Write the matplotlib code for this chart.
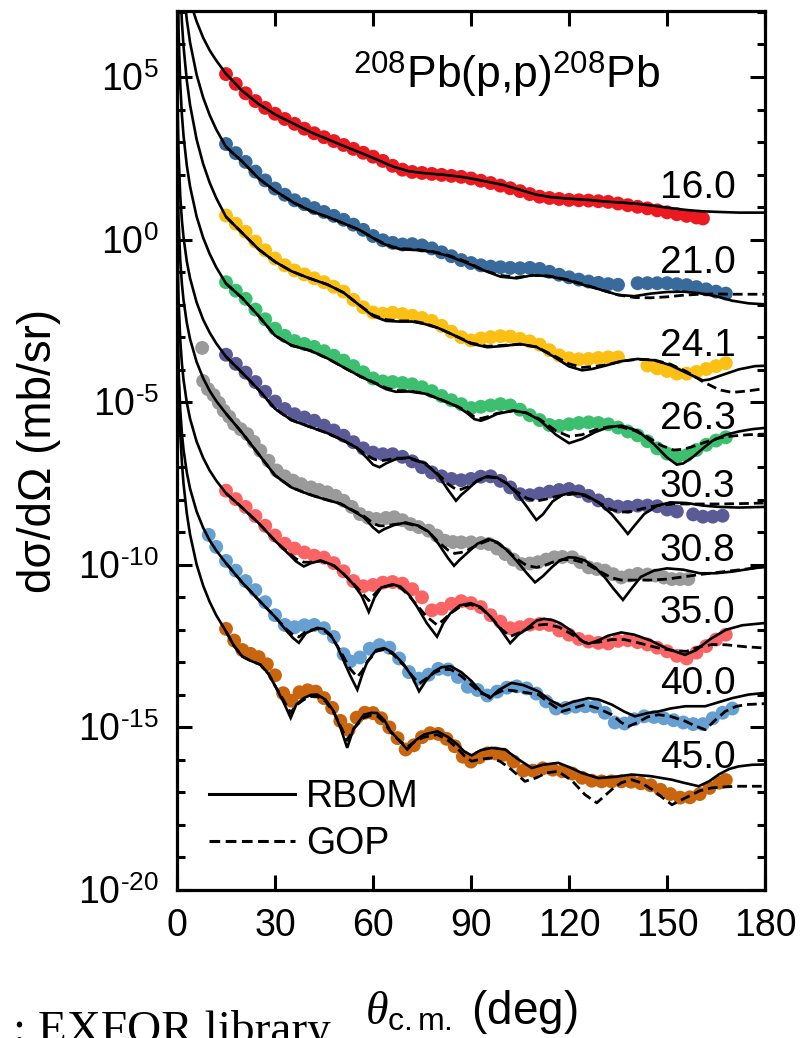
import numpy as np
import matplotlib
matplotlib.use("Agg")
import matplotlib.pyplot as plt
from matplotlib.lines import Line2D
from matplotlib.ticker import FixedLocator, FixedFormatter, NullLocator, NullFormatter

plt.rcParams['font.family'] = ['Liberation Sans', 'DejaVu Sans']
plt.rcParams['mathtext.fontset'] = 'custom'
plt.rcParams['mathtext.rm'] = 'Liberation Sans'
plt.rcParams['mathtext.it'] = 'Liberation Serif:italic'
plt.rcParams['mathtext.bf'] = 'Liberation Sans:bold'

# proton energies (MeV) and colours of the EXFOR points
energies = ['16.0', '21.0', '24.1', '26.3', '30.3', '30.8', '35.0', '40.0', '45.0']
colors = ['#ec1a20', '#386a9c', '#fcc014', '#3cbf6e', '#5a5a96',
          '#9a9a9a', '#fa6464', '#66a0d3', '#c9650f']

# experimental points: angle (deg) and log10 of the offset cross section
th_16 = [15, 18, 21, 24, 27, 30, 33, 36, 39, 42, 45, 48, 51, 54, 57, 60, 63, 66, 69, 72, 75, 78, 81, 84, 87,
         90, 93, 96, 99, 102, 105, 108, 111, 114, 117, 120, 123, 126, 129, 132, 135, 138, 141, 144, 147,
         150, 153, 156, 159, 161]
lg_16 = [5.09, 4.79, 4.50, 4.26, 4.05, 3.87, 3.71, 3.56, 3.41, 3.27, 3.15, 3.03, 2.91, 2.79, 2.67, 2.55,
         2.42, 2.27, 2.15, 2.08, 2.05, 2.02, 1.99, 1.96, 1.93, 1.88, 1.81, 1.74, 1.66, 1.58, 1.49, 1.40,
         1.32, 1.28, 1.25, 1.22, 1.21, 1.20, 1.18, 1.16, 1.11, 1.06, 1.01, 0.96, 0.90, 0.84, 0.78, 0.73,
         0.68, 0.65]

th_21 = [15, 18, 21, 24, 27, 30, 33, 36, 39, 42, 45, 48, 51, 54, 57, 60, 63, 66, 69, 72, 75, 78, 81, 84, 87,
         90, 93, 96, 99, 102, 105, 108, 111, 114, 117, 120, 123, 126, 129, 132, 135,
         141, 144, 147, 150, 153, 156, 159, 162, 165, 168]
lg_21 = [2.94, 2.66, 2.39, 2.09, 1.82, 1.57, 1.38, 1.21, 1.09, 0.97, 0.85, 0.73, 0.61, 0.46, 0.30, 0.11,
         -0.02, -0.10, -0.15, -0.14, -0.18, -0.27, -0.39, -0.51, -0.63, -0.72, -0.79, -0.83, -0.85, -0.87,
         -0.88, -0.87, -0.90, -0.99, -1.08, -1.16, -1.23, -1.29, -1.33, -1.37, -1.39,
         -1.34, -1.34, -1.34, -1.34, -1.37, -1.40, -1.46, -1.53, -1.60, -1.66]

th_24 = [15, 18, 21, 24, 27, 30, 33, 36, 39, 42, 45, 48, 51, 54, 57, 60, 63, 66, 69, 72, 75, 78, 81, 84, 87,
         90, 93, 96, 99, 102, 105, 108, 111, 114, 117, 120, 123, 126, 129, 132, 135,
         144, 147, 150, 153, 156, 159, 162, 165, 168]
lg_24 = [0.74, 0.49, 0.24, -0.06, -0.33, -0.58, -0.79, -0.95, -1.07, -1.19, -1.31, -1.45, -1.60, -1.85,
         -2.08, -2.24, -2.28, -2.25, -2.29, -2.34, -2.41, -2.50, -2.65, -2.83, -3.00, -3.10, -3.04, -3.00,
         -2.97, -2.98, -3.05, -3.13, -3.23, -3.40, -3.56, -3.65, -3.68, -3.67, -3.64, -3.62, -3.62,
         -3.87, -3.96, -4.04, -4.12, -4.12, -4.07, -3.98, -3.89, -3.80]

th_26 = [15, 18, 21, 24, 27, 30, 33, 36, 39, 42, 45, 48, 51, 54, 57, 60, 63, 66, 69, 72, 75, 78, 81, 84, 87,
         90, 93, 96, 99, 102, 105, 108, 111, 114, 117, 120, 123, 126, 129, 132, 135, 138, 141, 144, 147,
         150, 153, 156, 159, 162, 165, 168]
lg_26 = [-1.31, -1.57, -1.82, -2.15, -2.45, -2.74, -2.96, -3.12, -3.21, -3.30, -3.43, -3.57, -3.72, -3.89,
         -4.08, -4.27, -4.36, -4.38, -4.41, -4.45, -4.54, -4.66, -4.81, -4.94, -5.06, -5.18, -5.14, -5.10,
         -5.06, -5.10, -5.23, -5.40, -5.55, -5.70, -5.73, -5.68, -5.64, -5.62, -5.64, -5.68, -5.78, -5.90,
         -6.02, -6.20, -6.42, -6.58, -6.68, -6.63, -6.47, -6.31, -6.18, -6.08]

th_303 = [15, 18, 21, 24, 27, 30, 33, 36, 39, 42, 45, 48, 51, 54, 57, 60, 63, 66, 69, 72, 75, 78, 81, 84, 87,
          90, 93, 96, 99, 102, 105, 108, 111, 114, 117, 120, 123, 126, 129, 132, 135, 138, 141, 144, 147,
          150, 153, 158, 161, 164, 167]
lg_303 = [-3.54, -3.82, -4.09, -4.38, -4.68, -4.98, -5.21, -5.37, -5.47, -5.57, -5.72, -5.87, -6.03, -6.23,
          -6.42, -6.55, -6.60, -6.60, -6.68, -6.82, -7.00, -7.16, -7.28, -7.36, -7.40, -7.36, -7.29, -7.28,
          -7.42, -7.62, -7.83, -7.86, -7.81, -7.75, -7.70, -7.67, -7.74, -7.88, -8.02, -8.15, -8.21, -8.22,
          -8.18, -8.18, -8.20, -8.30, -8.36, -8.45, -8.52, -8.52, -8.49]

th_308 = [7.7, 8.0, 9.5, 11.2, 12.8, 14.3, 16, 17.5, 19.5, 21.5, 23.5, 25.5, 28, 30.5, 33, 35.5, 38, 41,
          43.5, 46, 48.5, 51, 53.5, 56, 58.5, 61, 64, 66.5, 69, 71.5, 74, 77, 79.5, 82, 84.5, 87, 90, 93,
          95.5, 98, 100.5, 103, 105.5, 108, 110.5, 113, 115.5, 118, 121, 123.5, 126, 128.5, 131, 133.5,
          136, 138.5, 141, 144, 146.5, 149, 151.5, 154, 156.5]
lg_308 = [-3.33, -4.35, -4.60, -4.78, -5.02, -5.26, -5.45, -5.67, -5.83, -5.98, -6.22, -6.49, -6.80, -7.10,
          -7.28, -7.41, -7.52, -7.62, -7.70, -7.77, -7.88, -8.03, -8.22, -8.44, -8.55, -8.59, -8.56, -8.54,
          -8.63, -8.75, -8.84, -8.95, -9.10, -9.26, -9.30, -9.31, -9.31, -9.33, -9.36, -9.50, -9.67, -9.84,
          -9.98, -9.96, -9.92, -9.84, -9.77, -9.76, -9.77, -9.92, -10.08, -10.13, -10.18, -10.29, -10.39,
          -10.33, -10.28, -10.30, -10.33, -10.39, -10.44, -10.44, -10.44]

th_35 = [15, 18, 21, 24, 27, 30, 33, 36, 39, 42, 45, 48, 51, 54, 57, 60, 63, 66, 69, 72, 75, 78, 81, 84, 87,
         90, 93, 96, 99, 102, 105, 108, 111, 114, 117, 120, 123, 126, 129, 132, 135, 138, 141, 144, 147,
         150, 153, 156, 159, 162, 165, 168]
lg_35 = [-7.72, -7.98, -8.22, -8.50, -8.80, -9.10, -9.35, -9.50, -9.62, -9.72, -9.78, -9.95, -10.20,
         -10.50, -10.66, -10.62, -10.55, -10.53, -10.58, -10.75, -11.00, -11.40, -11.35, -11.20, -11.12,
         -11.18, -11.30, -11.55, -11.75, -11.95, -11.92, -11.84, -11.82, -11.85, -12.02, -12.15, -12.28,
         -12.36, -12.40, -12.42, -12.34, -12.32, -12.38, -12.45, -12.55, -12.66, -12.80, -12.88, -12.70,
         -12.50, -12.30, -12.15]

th_40 = [9.7, 12, 15, 18, 21, 24, 27, 30, 33, 36, 39, 42, 45, 48, 51, 53, 56, 59, 62, 65, 68, 71, 74, 77,
         80, 83, 86, 89, 92, 95, 98, 101, 104, 107, 110, 113, 116, 119, 122, 125, 128, 131, 134, 137, 140,
         143, 146, 149, 152, 155, 158, 161, 164, 167, 170]
lg_40 = [-9.08, -9.45, -9.88, -10.18, -10.50, -10.78, -11.15, -11.55, -11.85, -11.92, -11.86, -11.85,
         -11.95, -12.22, -12.75, -12.97, -12.85, -12.58, -12.47, -12.55, -12.88, -13.30, -13.50, -13.38,
         -13.20, -13.22, -13.45, -13.75, -13.85, -14.02, -13.90, -13.78, -13.74, -13.80, -13.96, -14.20,
         -14.42, -14.40, -14.36, -14.35, -14.36, -14.55, -14.85, -14.88, -14.75, -14.66, -14.68, -14.72,
         -14.78, -14.85, -14.90, -14.90, -14.72, -14.55, -14.42]

th_45 = [15, 17.5, 20, 22.5, 25, 27.5, 30, 32.5, 35, 37.5, 40, 42.5, 45, 47.5, 50, 52.5, 55, 57.5, 60,
         62.5, 65, 67.5, 70, 72.5, 75, 77.5, 80, 82.5, 85, 87.5, 90, 92.5, 95, 97.5, 100, 103, 106, 109,
         112, 115, 118, 121, 124, 127, 130, 133, 136, 139, 142, 145, 148, 151, 154, 157, 160, 163, 166, 168]
lg_45 = [-11.97, -12.33, -12.62, -12.74, -12.84, -13.06, -13.40, -13.95, -14.18, -13.92, -13.86, -13.90,
         -14.10, -14.40, -14.80, -15.08, -14.70, -14.55, -14.56, -14.72, -15.00, -15.33, -15.68, -15.55,
         -15.30, -15.18, -15.20, -15.35, -15.58, -15.90, -16.05, -15.92, -15.80, -15.80, -15.84, -16.05,
         -16.33, -16.33, -16.26, -16.30, -16.35, -16.42, -16.55, -16.64, -16.66, -16.66, -16.66, -16.67,
         -16.72, -16.78, -16.92, -17.05, -17.16, -17.15, -17.05, -16.86, -16.70, -16.62]

# RBOM calculations, (angle, log10 cross section)
rbom_16 = [(4, 7.41), (5, 7.02), (6, 6.71), (8, 6.21), (10, 5.82), (12, 5.51), (15, 5.10), (20, 4.57),
           (25, 4.17), (30, 3.85), (36, 3.55), (41, 3.30), (46, 3.09), (51, 2.88), (56, 2.68), (61, 2.47),
           (66, 2.25), (71, 2.10), (77, 2.03), (82, 1.99), (87, 1.93), (90, 1.88), (95, 1.78), (100, 1.68),
           (105, 1.53), (110, 1.38), (115, 1.30), (120, 1.26), (126, 1.22), (131, 1.17), (136, 1.14),
           (141, 1.10), (146, 1.04), (151, 0.97), (156, 0.91), (161, 0.87), (166, 0.85), (172, 0.83),
           (180, 0.83)]
rbom_21 = [(1.5, 8.44), (2, 7.74), (3, 6.76), (4, 6.06), (6, 5.07), (8, 4.37), (10, 3.83), (12, 3.39),
           (15, 2.85), (20, 2.40), (25, 1.88), (30, 1.50), (36, 1.12), (41, 0.88), (46, 0.70), (51, 0.50),
           (56, 0.29), (60, 0.05), (63, -0.12), (66, -0.24), (69, -0.30), (73, -0.32), (78, -0.37),
           (83, -0.50), (89, -0.73), (94, -0.95), (99, -1.14), (104, -1.19), (109, -1.09), (114, -1.13),
           (119, -1.23), (124, -1.38), (130, -1.55), (135, -1.70), (140, -1.74), (145, -1.66),
           (150, -1.61), (155, -1.60), (160, -1.65), (165, -1.74), (170, -1.88), (175, -1.96), (180, -1.99)]
rbom_24 = [(1, 7.75), (1.5, 6.69), (2, 5.94), (3, 4.89), (4, 4.14), (6, 3.08), (8, 2.33), (10, 1.75),
           (12, 1.28), (15, 0.70), (20, 0.20), (25, -0.30), (30, -0.68), (35, -0.97), (40, -1.17),
           (46, -1.38), (51, -1.63), (55, -1.95), (60, -2.35), (64, -2.50), (68, -2.52), (72, -2.52),
           (76, -2.60), (80, -2.72), (85, -2.95), (90, -3.20), (95, -3.31), (100, -3.27), (105, -3.21),
           (110, -3.30), (115, -3.58), (120, -3.90), (124, -4.02), (127, -3.98), (131, -3.88),
           (136, -3.74), (141, -3.67), (146, -3.71), (151, -3.86), (156, -4.10), (161, -4.33),
           (163, -4.30), (167, -4.16), (172, -3.99), (177, -3.89), (180, -3.88)]
rbom_26 = [(0.2, 8.40), (0.5, 6.32), (1, 4.76), (1.5, 3.84), (2, 3.19), (3, 2.28), (4, 1.63), (6, 0.71),
           (8, 0.06), (10, -0.44), (12, -0.85), (15, -1.35), (20, -1.80), (25, -2.35), (30, -2.95),
           (35, -3.25), (41, -3.42), (46, -3.65), (51, -3.93), (56, -4.20), (61, -4.44), (64, -4.60),
           (67, -4.68), (71, -4.67), (76, -4.74), (81, -4.93), (86, -5.14), (89, -5.35), (91, -5.52),
           (93, -5.57), (95, -5.50), (98, -5.36), (103, -5.26), (107, -5.33), (111, -5.55), (116, -6.00),
           (120, -6.26), (124, -6.13), (128, -5.92), (132, -5.77), (136, -5.72), (141, -5.88),
           (146, -6.29), (150, -6.70), (153, -6.92), (155, -6.88), (158, -6.68), (161, -6.42),
           (164, -6.18), (168, -6.00), (172, -5.90), (176, -5.83), (180, -5.79)]
rbom_303 = [(0, 8.5), (0.1, 5.54), (0.2, 4.28), (0.3, 3.53), (0.5, 2.60), (1, 1.33), (1.5, 0.59),
            (2, 0.07), (3, -0.67), (4, -1.19), (6, -1.93), (8, -2.46), (10, -2.86), (12, -3.19),
            (15, -3.60), (20, -4.10), (25, -4.62), (30, -5.20), (35, -5.55), (41, -5.77), (46, -5.95),
            (51, -6.18), (55, -6.40), (58, -6.70), (60, -6.92), (62, -7.00), (64, -6.88), (67, -6.75),
            (71, -6.70), (76, -6.88), (80, -7.25), (83, -7.70), (85.4, -8.03), (87, -7.85), (89, -7.68),
            (92, -7.40), (95, -7.28), (98, -7.32), (101, -7.50), (104, -7.80), (107, -8.20), (110, -8.62),
            (112, -8.45), (115, -8.05), (118, -7.85), (121, -7.78), (125, -7.85), (129, -8.08),
            (133, -8.44), (136, -8.80), (138, -9.05), (140, -8.80), (143, -8.44), (147, -8.18),
            (151, -8.08), (156, -8.10), (161, -8.18), (166, -8.22), (172, -8.24), (180, -8.22)]
rbom_308 = [(0, 8.5), (0.1, 3.35), (0.2, 2.15), (0.3, 1.44), (0.5, 0.55), (1, -0.65), (1.5, -1.36),
            (2, -1.86), (3, -2.56), (4, -3.06), (6, -3.76), (8, -4.26), (10, -4.65), (12, -4.96),
            (15, -5.35), (20, -5.95), (25, -6.60), (30, -7.25), (35, -7.62), (40, -7.82), (45, -7.98),
            (50, -8.12), (54, -8.35), (57.2, -8.54), (60, -8.85), (61.8, -9.00), (63.5, -8.90),
            (66.4, -8.78), (70, -8.70), (74, -8.80), (77, -8.98), (80, -9.35), (83, -9.80), (84.8, -10.03),
            (86.5, -9.85), (89, -9.62), (92, -9.35), (95.3, -9.21), (98, -9.30), (101, -9.55), (104, -9.88),
            (107, -10.25), (109.6, -10.54), (112, -10.35), (114.7, -10.08), (117, -9.88), (119.8, -9.77),
            (122, -9.78), (124.9, -9.87), (128, -10.08), (131, -10.39), (133.5, -10.72), (136.5, -11.08),
            (139, -10.75), (142, -10.37), (146, -10.18), (150, -10.11), (155, -10.15), (160, -10.26),
            (165, -10.26), (170, -10.21), (175, -10.13), (180, -10.06)]
rbom_35 = [(0, 8.5), (0.1, 0.90), (0.2, -0.30), (0.3, -1.01), (0.5, -1.90), (1, -3.10), (1.5, -3.81),
           (2, -4.31), (3, -5.01), (4, -5.51), (6, -6.21), (8, -6.71), (10, -7.10), (12, -7.41),
           (15, -7.80), (20, -8.25), (25, -8.72), (30, -9.26), (34, -9.65), (36.5, -9.90), (38.8, -10.05),
           (41, -9.95), (44, -9.87), (48, -10.02), (51, -10.28), (54, -10.60), (56.5, -10.95),
           (58.7, -11.45), (60.5, -11.00), (62.5, -10.70), (66, -10.60), (68.4, -10.67), (71, -10.92),
           (73.5, -11.29), (76.5, -11.80), (79.6, -12.21), (81.5, -11.80), (83.7, -11.49), (86.5, -11.25),
           (89.9, -11.18), (93, -11.30), (96, -11.60), (99, -11.98), (102, -12.41), (104.5, -12.15),
           (107.2, -11.95), (110, -11.72), (112.3, -11.66), (115, -11.70), (117.4, -11.80), (121, -12.05),
           (124, -12.35), (126, -12.43), (129, -12.32), (132, -12.18), (136, -12.08), (140, -12.15),
           (145, -12.33), (150, -12.58), (155.5, -12.77), (159, -12.62), (163, -12.30), (168, -12.00),
           (173, -11.86), (180, -11.79)]
rbom_40 = [(0, 8.5), (0.1, -1.25), (0.2, -2.45), (0.3, -3.16), (0.5, -4.05), (1, -5.25), (1.5, -5.96),
           (2, -6.46), (3, -7.16), (4, -7.66), (6, -8.36), (8, -8.86), (10, -9.25), (12, -9.56),
           (15, -9.95), (20, -10.55), (25, -11.08), (30, -11.60), (33.7, -12.05), (35.5, -12.25),
           (37.3, -12.40), (39.5, -12.10), (42.9, -11.94), (45, -11.98), (47, -12.15), (49, -12.50),
           (51.1, -12.97), (53, -13.40), (55.2, -13.84), (56.8, -13.35), (58.3, -12.97), (61, -12.62),
           (63.4, -12.56), (66, -12.70), (69.5, -13.07), (72, -13.45), (74.1, -13.89), (76.3, -13.55),
           (78.7, -13.28), (81, -13.15), (83.8, -13.12), (87, -13.30), (90.2, -13.58), (93, -13.90),
           (95.8, -14.10), (98.5, -13.85), (102.4, -13.63), (106, -13.70), (110.6, -13.89), (114, -14.15),
           (117.8, -14.35), (121, -14.22), (125.9, -14.10), (129, -14.14), (133.1, -14.30), (137, -14.52),
           (140.2, -14.66), (144, -14.56), (147.4, -14.51), (151, -14.42), (155.6, -14.35),
           (161.7, -14.35), (166, -14.22), (170, -14.10), (175, -13.99), (180, -13.94)]
rbom_45 = [(0, 8.5), (0.1, -0.74), (0.2, -2.30), (0.3, -3.22), (0.5, -4.38), (1, -5.94), (1.5, -6.86),
           (2, -7.51), (3, -8.42), (4, -9.07), (6, -9.99), (8, -10.64), (10, -11.14), (12, -11.55),
           (15, -12.05), (17.5, -12.50), (20, -12.82), (22.5, -12.95), (25.5, -13.07), (28, -13.35),
           (30, -13.72), (32.5, -14.20), (34.8, -14.71), (36.5, -14.30), (38.8, -14.10), (41, -14.00),
           (42.9, -13.99), (45.5, -14.15), (48, -14.51), (50, -15.00), (52.1, -15.63), (54, -15.05),
           (57.2, -14.61), (59.5, -14.55), (61.3, -14.56), (63.5, -14.78), (65.4, -15.12), (68, -15.40),
           (70.5, -15.68), (73, -15.40), (75.6, -15.22), (79.7, -15.12), (83, -15.30), (85.9, -15.53),
           (88, -15.75), (90.2, -15.86), (93, -15.70), (96.3, -15.63), (100.4, -15.68), (104, -15.95),
           (108.6, -16.25), (112, -16.15), (116.7, -16.09), (120, -16.22), (123.9, -16.40), (129, -16.56),
           (134, -16.52), (139.2, -16.45), (145, -16.50), (151.5, -16.61), (155, -16.70), (159.7, -16.81),
           (163, -16.65), (165.8, -16.45), (169, -16.28), (171.9, -16.20), (176, -16.15), (180, -16.14)]

# GOP calculations, (angle, log10 cross section)
gop_21 = [(15, 2.85), (20, 2.40), (25, 1.88), (30, 1.50), (36, 1.12), (41, 0.88), (46, 0.70), (51, 0.50),
          (56, 0.29), (60, 0.05), (63, -0.10), (66, -0.22), (69, -0.28), (73, -0.30), (78, -0.36),
          (83, -0.48), (89, -0.70), (94, -0.95), (99, -1.10), (104, -1.16), (109, -1.10), (114, -1.12),
          (119, -1.22), (124, -1.36), (130, -1.55), (135, -1.70), (140, -1.78), (145, -1.79), (150, -1.76),
          (155, -1.71), (160, -1.68), (165, -1.67), (170, -1.68), (175, -1.68), (180, -1.68)]
gop_24 = [(15, 0.70), (20, 0.20), (25, -0.30), (30, -0.68), (35, -0.97), (40, -1.17), (46, -1.38),
          (51, -1.63), (55, -1.95), (60, -2.32), (64, -2.46), (68, -2.50), (72, -2.50), (76, -2.58),
          (80, -2.72), (85, -2.95), (90, -3.18), (95, -3.28), (100, -3.25), (105, -3.22), (110, -3.30),
          (115, -3.55), (120, -3.82), (124, -3.93), (128, -3.90), (132, -3.84), (136, -3.74), (141, -3.68),
          (146, -3.70), (151, -3.83), (156, -4.06), (161, -4.37), (166, -4.62), (170, -4.70), (175, -4.65),
          (180, -4.58)]
gop_26 = [(15, -1.35), (20, -1.80), (25, -2.35), (30, -2.95), (35, -3.25), (41, -3.42), (46, -3.65),
          (51, -3.93), (56, -4.20), (61, -4.42), (64, -4.56), (67, -4.64), (71, -4.65), (76, -4.73),
          (81, -4.93), (86, -5.14), (89, -5.30), (91, -5.45), (93, -5.50), (95, -5.45), (98, -5.34),
          (103, -5.26), (107, -5.33), (111, -5.52), (116, -5.88), (120, -6.05), (124, -6.00), (128, -5.85),
          (132, -5.76), (136, -5.76), (140, -5.87), (144, -6.07), (148, -6.32), (152, -6.47), (155, -6.45),
          (158, -6.36), (162, -6.22), (166, -6.10), (170, -6.04), (175, -6.00), (180, -5.98)]
gop_303 = [(15, -3.60), (20, -4.10), (25, -4.62), (30, -5.20), (35, -5.55), (41, -5.77), (46, -5.95),
           (51, -6.18), (55, -6.40), (58, -6.62), (60, -6.74), (62, -6.80), (64, -6.78), (67, -6.72),
           (71, -6.72), (76, -6.90), (80, -7.22), (83, -7.52), (85.4, -7.68), (87, -7.68), (89, -7.60),
           (92, -7.42), (95, -7.30), (98, -7.33), (101, -7.50), (104, -7.75), (107, -7.95), (110, -8.04),
           (113, -7.98), (116, -7.90), (119, -7.84), (122, -7.82), (125, -7.88), (129, -8.08), (133, -8.30),
           (136, -8.38), (139, -8.36), (143, -8.26), (147, -8.18), (152, -8.13), (158, -8.13), (165, -8.13),
           (172, -8.12), (180, -8.10)]
gop_308 = [(15, -5.35), (20, -5.95), (25, -6.60), (30, -7.25), (35, -7.62), (40, -7.82), (45, -7.98),
           (50, -8.12), (54, -8.33), (57.2, -8.50), (60, -8.72), (61.8, -8.80), (63.5, -8.80), (66.4, -8.76),
           (70, -8.72), (74, -8.82), (77, -8.98), (80, -9.30), (83, -9.55), (85, -9.65), (87, -9.62),
           (89, -9.55), (92, -9.38), (95.3, -9.25), (98, -9.32), (101, -9.55), (104, -9.82), (107, -10.02),
           (110, -10.08), (112.5, -10.02), (115, -9.92), (118, -9.84), (121, -9.84), (125, -9.95),
           (129, -10.18), (133, -10.40), (136, -10.47), (140, -10.47), (145, -10.47), (150, -10.44),
           (155, -10.37), (160, -10.30), (165, -10.24), (170, -10.18), (175, -10.12), (180, -10.06)]
gop_35 = [(15, -7.80), (20, -8.25), (25, -8.72), (30, -9.26), (34, -9.62), (36.5, -9.82), (38.8, -9.92),
          (41, -9.92), (44, -9.88), (48, -10.03), (51, -10.28), (54, -10.58), (56.5, -10.85), (58.7, -11.10),
          (60.5, -10.90), (62.5, -10.70), (66, -10.62), (68.4, -10.70), (71, -10.95), (73.5, -11.25),
          (76.5, -11.60), (79.6, -11.85), (81.5, -11.70), (83.7, -11.50), (86.5, -11.30), (89.9, -11.22),
          (93, -11.33), (96, -11.60), (99, -11.95), (102, -12.20), (104.5, -12.10), (107.2, -11.98),
          (110, -11.86), (113, -11.83), (117, -11.92), (121, -12.15), (125, -12.40), (129, -12.38),
          (133, -12.30), (137, -12.30), (142, -12.42), (147, -12.55), (152, -12.64), (156, -12.66),
          (160, -12.52), (164, -12.45), (168, -12.46), (174, -12.52), (180, -12.56)]
gop_40 = [(15, -9.95), (20, -10.55), (25, -11.08), (30, -11.60), (33.7, -12.00), (35.5, -12.15),
          (37.3, -12.22), (39.5, -12.05), (42.9, -11.96), (45, -12.02), (47, -12.18), (49, -12.48),
          (51.1, -12.85), (53, -13.20), (55.2, -13.45), (56.8, -13.25), (58.3, -12.98), (61, -12.66),
          (63.4, -12.60), (66, -12.74), (69.5, -13.10), (72, -13.42), (74.1, -13.65), (76.3, -13.50),
          (78.7, -13.32), (81, -13.22), (83.8, -13.22), (87, -13.42), (90.2, -13.70), (93, -13.95),
          (95.8, -14.05), (98.5, -13.92), (100.4, -13.84), (105, -13.90), (110.6, -13.99), (114, -14.25),
          (117.8, -14.51), (121, -14.42), (124.9, -14.30), (129, -14.42), (133.1, -14.61), (136, -14.85),
          (138.2, -14.97), (141, -14.85), (144, -14.68), (147.4, -14.61), (151, -14.66), (155.6, -14.81),
          (158.5, -14.95), (161.7, -15.07), (164.5, -14.80), (167.8, -14.51), (171, -14.36),
          (173.9, -14.30), (180, -14.27)]
gop_45 = [(15, -12.05), (17.5, -12.50), (20, -12.82), (22.5, -12.95), (25.5, -13.07), (28, -13.35),
          (30, -13.72), (32.5, -14.15), (34.8, -14.55), (36.5, -14.32), (38.8, -14.15), (41, -14.05),
          (42.9, -14.05), (45.5, -14.20), (48, -14.55), (50, -14.95), (52.1, -15.40), (54, -15.05),
          (57.2, -14.70), (59.5, -14.63), (61.3, -14.65), (63.5, -14.85), (65.4, -15.15), (68, -15.40),
          (70.5, -15.60), (73, -15.42), (75.6, -15.30), (79.7, -15.22), (83, -15.40), (85.9, -15.65),
          (88, -15.88), (90.2, -16.04), (93, -15.98), (96.3, -15.94), (99, -16.05), (102.4, -16.30),
          (106.5, -16.66), (110, -16.55), (113, -16.40), (116.7, -16.35), (121, -16.65), (124.9, -17.07),
          (128.5, -17.32), (133.1, -16.91), (136, -16.70), (139.2, -16.61), (142, -16.70), (145.4, -16.91),
          (148.5, -17.15), (151.5, -17.38), (154, -17.25), (156.6, -17.12), (160, -16.95), (163.7, -16.86),
          (170.9, -16.81), (180, -16.81)]

data_sets = [(th_16, lg_16), (th_21, lg_21), (th_24, lg_24), (th_26, lg_26), (th_303, lg_303),
             (th_308, lg_308), (th_35, lg_35), (th_40, lg_40), (th_45, lg_45)]
rbom_sets = [rbom_16, rbom_21, rbom_24, rbom_26, rbom_303, rbom_308, rbom_35, rbom_40, rbom_45]
gop_sets = [gop_21, gop_24, gop_26, gop_303, gop_308, gop_35, gop_40, gop_45]

# where the energy tags sit (angle of right edge, log10 of baseline)
tag_x = 171
tag_y = [1.28, -1.03, -3.58, -5.82, -7.92, -9.88, -11.79, -13.97, -16.25]

dash = (0, (3.5, 1.8))

fig = plt.figure(figsize=(8.02, 10.38), dpi=100)
ax = fig.add_axes([0.2207, 0.1426, 0.7332, 0.8468])
ax.set_yscale('log')

for (th, lg), c in zip(data_sets, colors):
    ax.scatter(th, 10.0 ** np.array(lg), s=100, color=c, edgecolors='none', zorder=2)

for curve in rbom_sets:
    t, v = zip(*curve)
    ax.plot(t, 10.0 ** np.array(v), color='k', lw=1.9, zorder=3, solid_joinstyle='miter')

for curve in gop_sets:
    t, v = zip(*curve)
    ax.plot(t, 10.0 ** np.array(v), color='k', lw=2.0, ls=dash, zorder=3)

for e, y in zip(energies, tag_y):
    ax.text(tag_x, 10.0 ** y, e, ha='right', va='baseline', fontsize=28, zorder=4)

ax.text(101, 10.0 ** 4.66, r'$^{208}$Pb(p,p)$^{208}$Pb', ha='center', va='baseline', fontsize=32)

ax.set_xlim(0, 180)
ax.set_ylim(1e-20, 10.0 ** 7.03)
ax.set_xticks(range(0, 181, 30))
ax.xaxis.set_minor_locator(NullLocator())
major = [-20, -15, -10, -5, 0, 5]
ax.yaxis.set_major_locator(FixedLocator([10.0 ** k for k in major]))
ax.yaxis.set_major_formatter(FixedFormatter(['10$^{%s}$' % str(k).replace('-', '\u2010') for k in major]))
ax.yaxis.set_minor_locator(FixedLocator([10.0 ** k for k in range(-19, 8) if k % 5]))
ax.yaxis.set_minor_formatter(NullFormatter())

ax.tick_params(which='both', direction='in', top=True, right=True, width=2.2)
ax.tick_params(which='major', length=11, labelsize=27, pad=13)
ax.tick_params(which='minor', length=6)
for sp in ax.spines.values():
    sp.set_linewidth(2.3)

ax.set_ylabel('dσ/dΩ (mb/sr)', fontsize=33, labelpad=12)
ax.set_xlabel(r'$\theta_{\mathrm{c.m.}}$ (deg)', fontsize=33, labelpad=32)

handles = [Line2D([], [], color='k', lw=2.2, label='RBOM'),
           Line2D([], [], color='k', lw=2.2, ls=dash, label='GOP')]
ax.legend(handles=handles, loc='upper left', bbox_to_anchor=(0.054, 0.126), frameon=False,
          fontsize=27, handlelength=2.3, handletextpad=0.3, labelspacing=0.28, borderpad=0,
          borderaxespad=0)

fig.text(0.016, -0.005, ': EXFOR library', family='Liberation Serif', fontsize=34, va='baseline')

fig.savefig('out.png', dpi=100)
